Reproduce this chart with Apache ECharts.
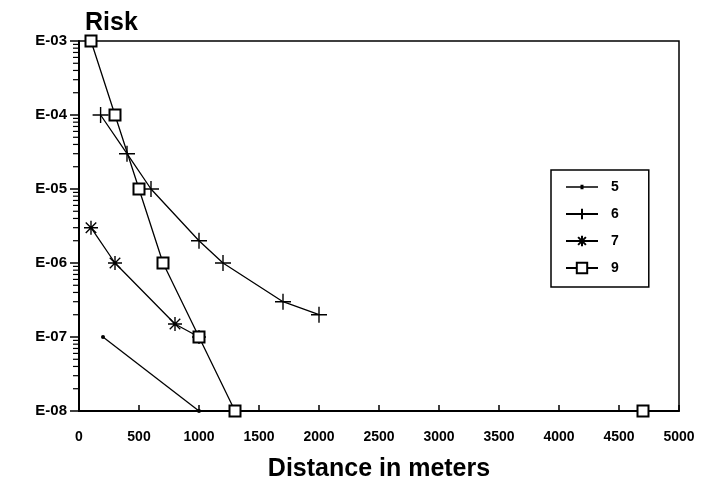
<!DOCTYPE html>
<html>
<head>
<meta charset="utf-8">
<script src="https://cdn.jsdelivr.net/npm/echarts@6/dist/echarts.min.js"></script>
<style>
  html, body { margin: 0; padding: 0; background: #fff; }
  #chart { width: 708px; height: 487px; }
</style>
</head>
<body>
<div id="chart"></div>
<script>
// distances (m) and risks
const dist5 = [200, 1000]
const risk5 = [1e-7, 1e-8]
const dist6 = [180, 400, 600, 1000, 1200, 1700, 2000]
const risk6 = [1e-4, 3e-5, 1e-5, 2e-6, 1e-6, 3e-7, 2e-7]
const dist7 = [100, 300, 800, 1000]
const risk7 = [3e-6, 1e-6, 1.5e-7, 1e-7]
const dist9 = [100, 300, 500, 700, 1000, 1300, 4700]
const risk9 = [1e-3, 1e-4, 1e-5, 1e-6, 1e-7, 1e-8, 1e-8]

const seriesNames = ['5', '6', '7', '9']
const yTickLabels = ['E-08', 'E-07', 'E-06', 'E-05', 'E-04', 'E-03']
const decades = [1e-8, 1e-7, 1e-6, 1e-5, 1e-4]
const minorSteps = [2, 3, 4, 5, 6, 7, 8, 9]

const font = 'Liberation Sans, Arial, sans-serif'
const pair = (xs, ys) => xs.map((x, i) => [x, ys[i]])

const minorTicks = []
decades.forEach(d => minorSteps.forEach(m => minorTicks.push([0, d * m])))

const plusPath = 'path://M0,8L16,8M8,0L8,16'
const starPath = 'path://M0,8L16,8M8,0L8,16M2,2L14,14M14,2L2,14'
// legend icon for series 5: line with a small dot
const dotLineIcon = 'path://M0,1.6H32V3.0H0Z M14.5,0H17.5V4.6H14.5Z'

const lineStyle = { color: '#000', width: 1.3 }
const markStyle = { color: '#000', borderColor: '#000', borderWidth: 1.4 }

const chart = echarts.init(document.getElementById('chart'))
chart.setOption({
  backgroundColor: '#fff',
  animation: false,
  title: {
    text: 'Risk',
    left: 80, top: 6,
    textStyle: { fontFamily: font, fontWeight: 'bold', fontSize: 25, color: '#000' }
  },
  grid: {
    left: 79, right: 29, top: 41, bottom: 76,
    outerBoundsMode: 'none',
    containLabel: false,
    show: true, borderColor: '#000', borderWidth: 1.5, backgroundColor: 'transparent'
  },
  legend: {
    data: seriesNames.map(n => n === '5' ? { name: n, icon: dotLineIcon } : { name: n }),
    orient: 'vertical',
    left: 551, top: 170,
    borderColor: '#000', borderWidth: 1.5,
    padding: [10, 30, 12, 14],
    itemGap: 13,
    itemWidth: 32, itemHeight: 13,
    symbolKeepAspect: true,
    textStyle: { fontFamily: font, fontWeight: 'bold', fontSize: 14, color: '#000', padding: [0, 0, 0, 8] }
  },
  xAxis: {
    type: 'value',
    min: 0, max: 5000, interval: 500,
    splitLine: { show: false },
    axisLine: { lineStyle: { color: '#000', width: 2 } },
    axisTick: { inside: true, length: 6, lineStyle: { color: '#000', width: 1.5 } },
    axisLabel: {
      fontFamily: font, fontWeight: 'bold', fontSize: 14, color: '#000', margin: 19,
      formatter: v => String(v)
    },
    name: 'Distance in meters',
    nameLocation: 'middle',
    nameGap: 46,
    nameTextStyle: { fontFamily: font, fontWeight: 'bold', fontSize: 25, color: '#000' }
  },
  yAxis: {
    type: 'log',
    logBase: 10,
    min: 1e-8, max: 1e-3,
    splitLine: { show: false },
    axisLine: { lineStyle: { color: '#000', width: 2 } },
    axisTick: { length: 9, lineStyle: { color: '#000', width: 1.5 } },
    axisLabel: {
      fontFamily: font, fontWeight: 'bold', fontSize: 15, color: '#000', margin: 12,
      formatter: v => yTickLabels[Math.round(Math.log10(v)) + 8]
    }
  },
  series: [
    {
      name: '5', type: 'line', data: pair(dist5, risk5),
      symbol: 'circle', symbolSize: 4,
      lineStyle, itemStyle: { color: '#000' }
    },
    {
      name: '6', type: 'line', data: pair(dist6, risk6),
      symbol: plusPath, symbolSize: 16,
      lineStyle, itemStyle: markStyle
    },
    {
      name: '7', type: 'line', data: pair(dist7, risk7),
      symbol: starPath, symbolSize: 14,
      lineStyle, itemStyle: markStyle
    },
    {
      name: '9', type: 'line', data: pair(dist9, risk9),
      symbol: 'emptyRect', symbolSize: 11,
      lineStyle, itemStyle: { color: '#000', borderColor: '#000', borderWidth: 1.3 }
    },
    {
      // log-spaced minor ticks on the y axis
      type: 'custom',
      silent: true,
      clip: false,
      data: minorTicks,
      renderItem: (params, api) => {
        const p = api.coord([0, api.value(1)])
        return {
          type: 'line',
          shape: { x1: p[0] - 6, y1: p[1], x2: p[0], y2: p[1] },
          style: { stroke: '#000', lineWidth: 1.2 }
        }
      }
    }
  ]
})
</script>
</body>
</html>
